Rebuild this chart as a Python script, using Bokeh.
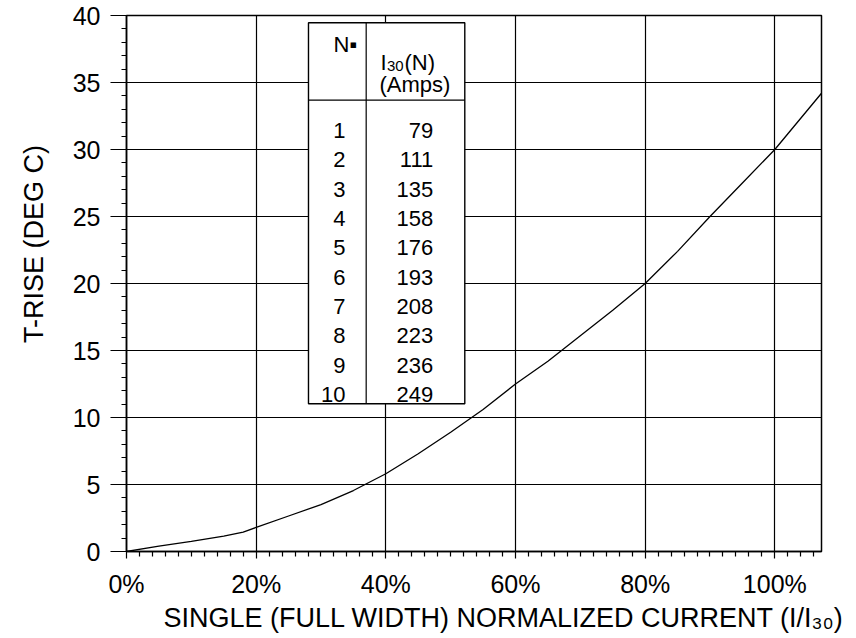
import math
from bokeh.plotting import figure
from bokeh.layouts import row
from bokeh.models import FixedTicker, Label, NumeralTickFormatter, ColumnDataSource, Title
from bokeh.core.properties import value
from bokeh.embed import file_html
from bokeh.resources import INLINE

# ---- data ----
current_frac = [0, 0.05, 0.10, 0.15, 0.18, 0.20, 0.25, 0.30, 0.35, 0.40, 0.45, 0.50,
                0.55, 0.60, 0.65, 0.70, 0.75, 0.80, 0.85, 0.90, 0.95, 1.00, 1.072]
t_rise = [0, 0.4, 0.75, 1.15, 1.45, 1.8, 2.65, 3.5, 4.55, 5.8, 7.3, 8.9,
          10.6, 12.5, 14.2, 16.1, 18.0, 20.0, 22.4, 25.0, 27.5, 30.0, 34.2]

table_n = ["1", "2", "3", "4", "5", "6", "7", "8", "9", "10"]
table_amps = ["79", "111", "135", "158", "176", "193", "208", "223", "236", "249"]

x_ticks = [0, 0.2, 0.4, 0.6, 0.8, 1.0]
y_ticks = [0, 5, 10, 15, 20, 25, 30, 35, 40]

x_title = "SINGLE (FULL WIDTH) NORMALIZED CURRENT (I/I\u2083\u2080)"
y_title = "T-RISE (DEG C)"

X_END = 1.072
FONT = "Liberation Sans"
H = 636
LW = 56  # width of the strip holding the y title

# strip on the left for the vertical axis title
tfig = figure(width=LW, height=H, x_range=(0, LW), y_range=(0, H), min_border=0,
              x_axis_location=None, y_axis_location=None,
              output_backend="svg", toolbar_location=None)
tfig.grid.visible = False
tfig.outline_line_color = None
tfig.background_fill_color = "white"
tfig.border_fill_color = "white"
tfig.add_layout(Label(x=33, y=H - 271, text=y_title, angle=math.pi / 2,
                      text_align="center", text_baseline="middle",
                      text_font=FONT, text_font_size="27px", text_color="black"))

p = figure(frame_width=695, frame_height=536, x_range=(0, X_END), y_range=(0, 40),
           output_backend="svg", toolbar_location=None,
           min_border_left=126 - LW, min_border_right=29, min_border_top=15,
           min_border_bottom=H - 15 - 536)
p.background_fill_color = "white"
p.border_fill_color = "white"
p.outline_line_color = "black"
p.outline_line_width = 1.5

x_minor = [round(i * 0.02, 4) for i in range(0, 54) if i % 10 != 0]
y_minor = [i for i in range(0, 41) if i % 5 != 0]
xt = FixedTicker(ticks=x_ticks, minor_ticks=x_minor)
yt = FixedTicker(ticks=y_ticks, minor_ticks=y_minor)
p.xaxis.ticker = xt
p.yaxis.ticker = yt
p.xgrid.ticker = xt
p.ygrid.ticker = yt
p.xaxis.formatter = NumeralTickFormatter(format="0%")

for g in (p.xgrid, p.ygrid):
    g.grid_line_color = "black"
    g.grid_line_width = 1.2

for ax in (p.xaxis, p.yaxis):
    ax.axis_line_color = "black"
    ax.axis_line_width = 1.5
    ax.major_tick_line_color = "black"
    ax.major_tick_line_width = 1.2
    ax.minor_tick_line_color = "black"
    ax.minor_tick_line_width = 1.2
    ax.major_tick_in = 0
    ax.minor_tick_in = 0
    ax.minor_tick_out = 5
    ax.major_label_text_font = FONT
    ax.major_label_text_font_size = "25px"
    ax.major_label_text_color = "black"

p.xaxis.major_tick_out = 7
p.xaxis.major_label_standoff = 11
p.yaxis.major_tick_out = 16
p.yaxis.major_label_standoff = 10

# x axis title
p.add_layout(Title(text=x_title, align="left", offset=37, standoff=0,
                   text_font=FONT, text_font_size="27px", text_font_style="normal",
                   text_color="black"), "below")

# curve
p.line(current_frac, t_rise, line_color="black", line_width=1.3)

# ---- table ----
tx0, tx1, tdiv = 0.2807, 0.5218, 0.3697
ty0, ty1, thead = 11.03, 39.46, 33.68
p.quad(left=[tx0], right=[tx1], bottom=[ty0], top=[ty1], fill_color="white",
       line_color="black", line_width=1.4)
p.segment(x0=[tdiv, tx0], y0=[ty0, thead], x1=[tdiv, tx1], y1=[ty1, thead],
          line_color="black", line_width=1.2)

row1_y = 31.41
row_step = 2.188
rows = ColumnDataSource(dict(
    n=table_n, amps=table_amps,
    y=[row1_y - i * row_step for i in range(len(table_n))],
))
p.text(x=0.3378, y="y", text="n", source=rows, text_align="right", text_baseline="alphabetic",
       text_font=value(FONT), text_font_size="22px", text_color="black")
p.text(x=0.4731, y="y", text="amps", source=rows, text_align="right", text_baseline="alphabetic",
       text_font=value(FONT), text_font_size="22px", text_color="black")

def lab(x, y, text, size, align="left"):
    p.add_layout(Label(x=x, y=y, text=text, text_align=align, text_baseline="alphabetic",
                       text_font=FONT, text_font_size=size, text_color="black"))

lab(0.3559, 37.84, "N\u25aa", "22px", align="right")
lab(0.3918, 36.48, "I", "22px")
lab(0.4018, 36.25, "30", "15px")
lab(0.4288, 36.48, "(N)", "22px")
lab(0.3903, 34.87, "(Amps)", "22px")

layout = row(tfig, p)
open("out.html", "w").write(file_html(layout, INLINE))
